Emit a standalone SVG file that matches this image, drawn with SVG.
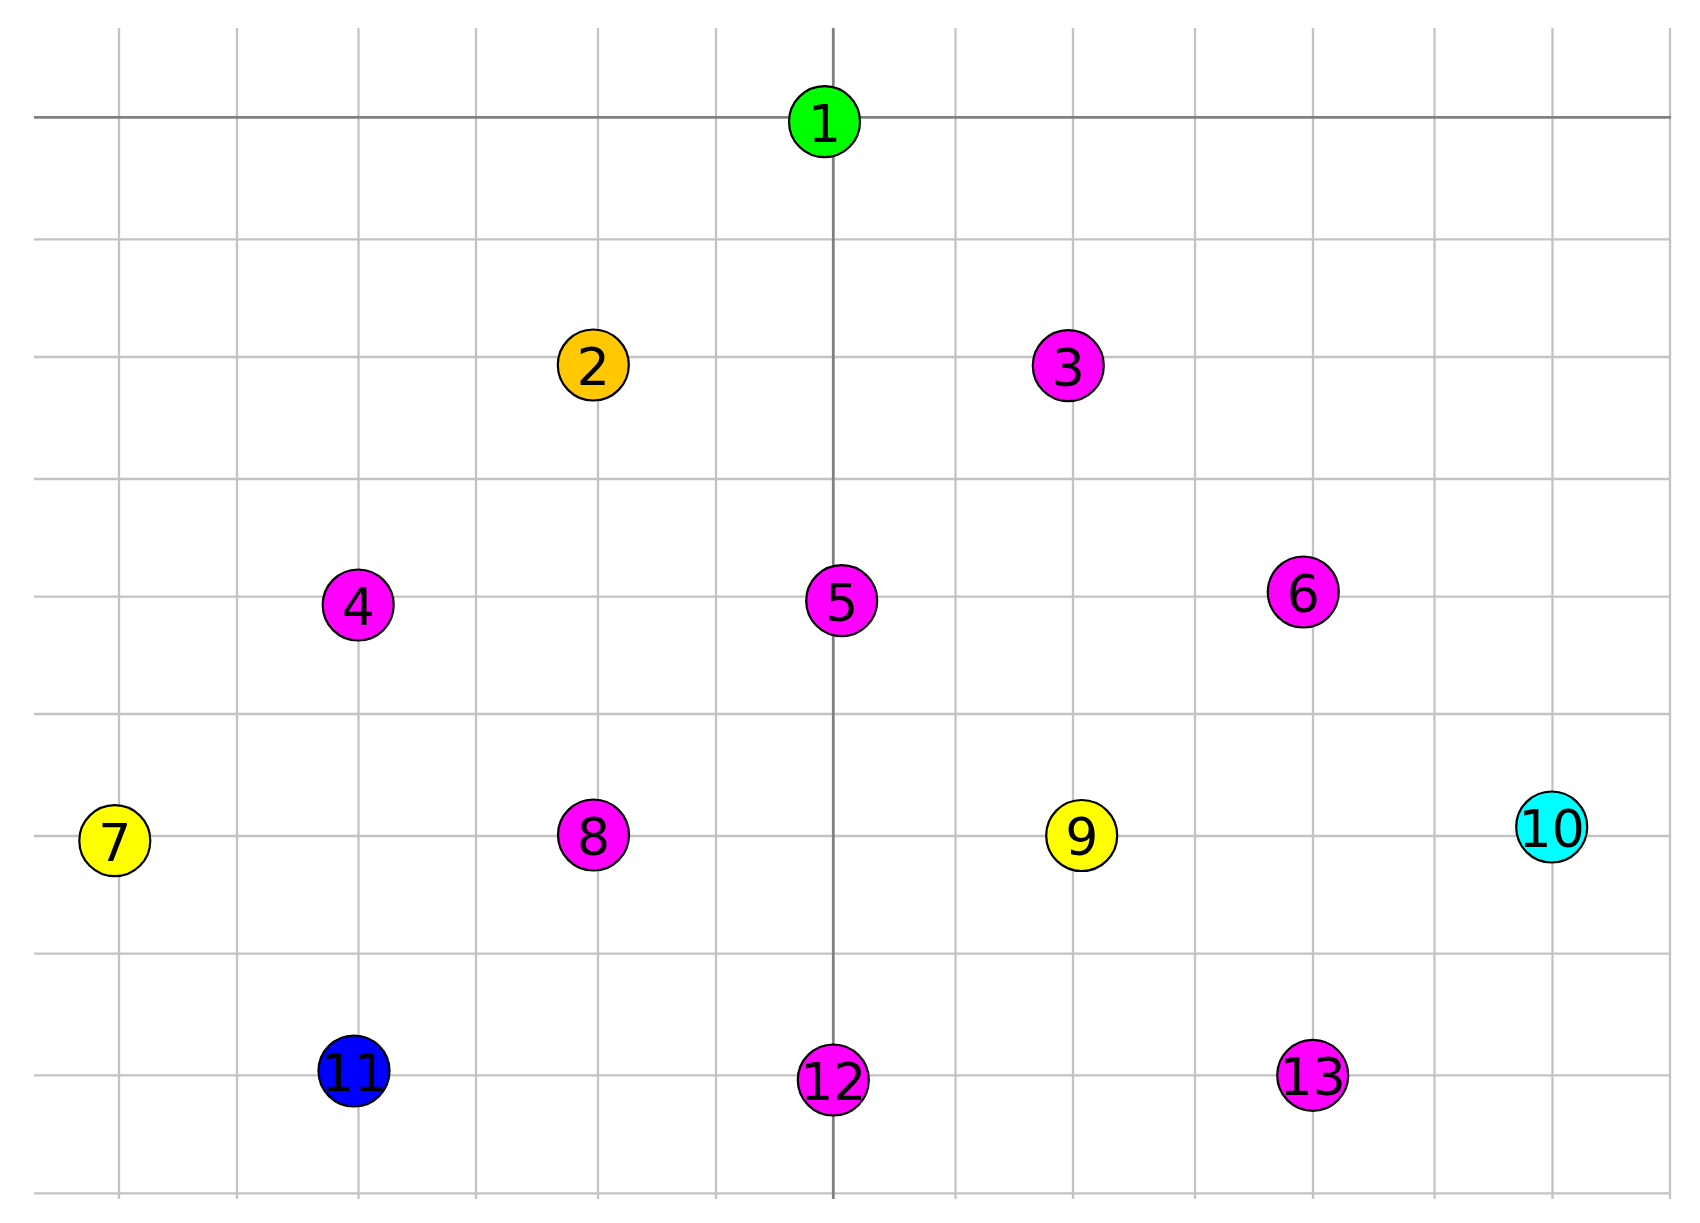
<svg xmlns="http://www.w3.org/2000/svg" width="1700" height="1223" viewBox="0 0 1700 1223">
<style>
.g{stroke:#c3c3c3;stroke-width:2.3;fill:none}
.ax{stroke:#808080;stroke-width:2.8;fill:none}
.n circle{stroke:#000;stroke-width:2.2}
.n text{font-family:"DejaVu Sans",sans-serif;font-size:52px;text-anchor:middle;fill:#000}
</style>
<rect width="1700" height="1223" fill="#fff"/>
<g id="grid">
<g class="g">
<line x1="119" y1="28" x2="119" y2="1199"/>
<line x1="237" y1="28" x2="237" y2="1199"/>
<line x1="358.5" y1="28" x2="358.5" y2="1199"/>
<line x1="476" y1="28" x2="476" y2="1199"/>
<line x1="598" y1="28" x2="598" y2="1199"/>
<line x1="716" y1="28" x2="716" y2="1199"/>
<line x1="955.5" y1="28" x2="955.5" y2="1199"/>
<line x1="1073" y1="28" x2="1073" y2="1199"/>
<line x1="1195" y1="28" x2="1195" y2="1199"/>
<line x1="1313" y1="28" x2="1313" y2="1199"/>
<line x1="1434.5" y1="28" x2="1434.5" y2="1199"/>
<line x1="1552.5" y1="28" x2="1552.5" y2="1199"/>
<line x1="1670" y1="28" x2="1670" y2="1199"/>
<line x1="34" y1="239.3" x2="1671" y2="239.3"/>
<line x1="34" y1="357" x2="1671" y2="357"/>
<line x1="34" y1="479" x2="1671" y2="479"/>
<line x1="34" y1="596.7" x2="1671" y2="596.7"/>
<line x1="34" y1="714" x2="1671" y2="714"/>
<line x1="34" y1="836" x2="1671" y2="836"/>
<line x1="34" y1="953.7" x2="1671" y2="953.7"/>
<line x1="34" y1="1075.3" x2="1671" y2="1075.3"/>
<line x1="34" y1="1193.3" x2="1671" y2="1193.3"/>
</g>
<g class="ax">
<line x1="34" y1="117.3" x2="1671" y2="117.3"/>
<line x1="833.3" y1="28" x2="833.3" y2="1199"/>
</g>
</g>
<g id="connectors"></g>
<g id="n1" class="n"><circle cx="824.5" cy="121.7" r="35.5" fill="#00ff00"/><text x="824.5" y="141.5">1</text></g>
<g id="n2" class="n"><circle cx="593.3" cy="365" r="35.5" fill="#ffc800"/><text x="593.3" y="384.8">2</text></g>
<g id="n3" class="n"><circle cx="1068.3" cy="365.7" r="35.5" fill="#ff00ff"/><text x="1068.3" y="385.5">3</text></g>
<g id="n4" class="n"><circle cx="358.2" cy="605" r="35.5" fill="#ff00ff"/><text x="358.2" y="624.8">4</text></g>
<g id="n5" class="n"><circle cx="841.7" cy="600.7" r="35.5" fill="#ff00ff"/><text x="841.7" y="620.5">5</text></g>
<g id="n6" class="n"><circle cx="1303.3" cy="592" r="35.5" fill="#ff00ff"/><text x="1303.3" y="611.8">6</text></g>
<g id="n7" class="n"><circle cx="114.8" cy="840.7" r="35.5" fill="#ffff00"/><text x="114.8" y="860.5">7</text></g>
<g id="n8" class="n"><circle cx="593.5" cy="835" r="35.5" fill="#ff00ff"/><text x="593.5" y="854.8">8</text></g>
<g id="n9" class="n"><circle cx="1081.7" cy="835.5" r="35.5" fill="#ffff00"/><text x="1081.7" y="855.3">9</text></g>
<g id="n10" class="n"><circle cx="1551.7" cy="827" r="35.5" fill="#00ffff"/><text x="1551.7" y="846.8">10</text></g>
<g id="n11" class="n"><circle cx="354" cy="1071" r="35.5" fill="#0000ff"/><text x="354" y="1090.8">11</text></g>
<g id="n12" class="n"><circle cx="833.3" cy="1080" r="35.5" fill="#ff00ff"/><text x="833.3" y="1099.8">12</text></g>
<g id="n13" class="n"><circle cx="1312.7" cy="1075.3" r="35.5" fill="#ff00ff"/><text x="1312.7" y="1095.1">13</text></g>
</svg>
